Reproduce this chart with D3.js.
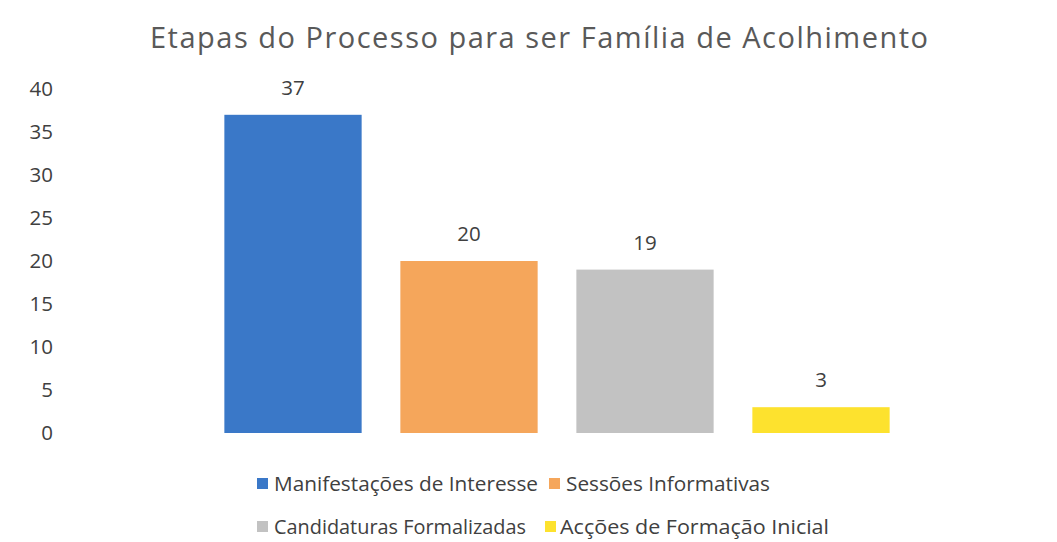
<!DOCTYPE html>
<html>
<head>
<meta charset="utf-8">
<script src="https://cdn.jsdelivr.net/npm/d3@7"></script>
<style>
  body { margin: 0; background: #fff; }
  svg { display: block; font-family: "Open Sans", "DejaVu Sans", sans-serif; }
</style>
</head>
<body>
<svg id="chart" width="1057" height="542"></svg>
<script>
var categories = ["Manifestações de Interesse", "Sessões Informativas", "Candidaturas Formalizadas", "Acções de Formação Inicial"];
var values = [37, 20, 19, 3];
var colors = ["#3a78c8", "#f5a65b", "#c2c2c2", "#fde22e"];
var yTicks = [0, 5, 10, 15, 20, 25, 30, 35, 40];

var svg = d3.select("#chart");

// title
svg.append("text")
    .attr("x", 539)
    .attr("y", 48)
    .attr("text-anchor", "middle")
    .attr("font-size", 29)
    .attr("fill", "#595959")
    .attr("textLength", 778)
    .text("Etapas do Processo para ser Família de Acolhimento");

var x = d3.scaleBand()
    .domain(categories)
    .range([205, 909])
    .paddingInner(0.22)
    .paddingOuter(0.11);

var y = d3.scaleLinear().domain([0, 40]).range([433, 89]);

// y axis, labels only
var yAxis = svg.append("g")
    .attr("transform", "translate(53,0)")
    .call(d3.axisLeft(y).tickValues(yTicks).tickSize(0).tickPadding(0));
yAxis.select(".domain").remove();
yAxis.selectAll("text")
    .attr("font-size", 20.5)
    .attr("fill", "#404040")
    .attr("font-family", "'Open Sans', sans-serif");

// bars
svg.selectAll("rect.bar")
    .data(values)
    .enter().append("rect")
    .attr("class", "bar")
    .attr("x", function (d, i) { return x(categories[i]); })
    .attr("y", function (d) { return y(d); })
    .attr("width", x.bandwidth())
    .attr("height", function (d) { return y(0) - y(d); })
    .attr("fill", function (d, i) { return colors[i]; });

// value labels
svg.selectAll("text.val")
    .data(values)
    .enter().append("text")
    .attr("class", "val")
    .attr("x", function (d, i) { return x(categories[i]) + x.bandwidth() / 2; })
    .attr("y", function (d) { return y(d) - 20; })
    .attr("text-anchor", "middle")
    .attr("font-size", 20.5)
    .attr("fill", "#404040")
    .text(function (d) { return d; });

// legend, two rows
var legendPos = [
    {x: 257, y: 484, w: 264},
    {x: 549, y: 484, w: 204},
    {x: 257, y: 527, w: 252},
    {x: 545, y: 527, w: 269}
];
var legend = svg.selectAll("g.leg")
    .data(categories)
    .enter().append("g")
    .attr("class", "leg")
    .attr("transform", function (d, i) { return "translate(" + legendPos[i].x + "," + legendPos[i].y + ")"; });
legend.append("rect")
    .attr("x", 0).attr("y", -6)
    .attr("width", 11).attr("height", 11)
    .attr("fill", function (d, i) { return colors[i]; });
legend.append("text")
    .attr("x", function (d, i) { return i === 3 ? 15 : 17; })
    .attr("y", 0)
    .attr("dy", "0.35em")
    .attr("font-size", 20)
    .attr("fill", "#404040")
    .attr("textLength", function (d, i) { return legendPos[i].w; })
    .attr("lengthAdjust", "spacingAndGlyphs")
    .text(function (d) { return d; });
</script>
</body>
</html>
